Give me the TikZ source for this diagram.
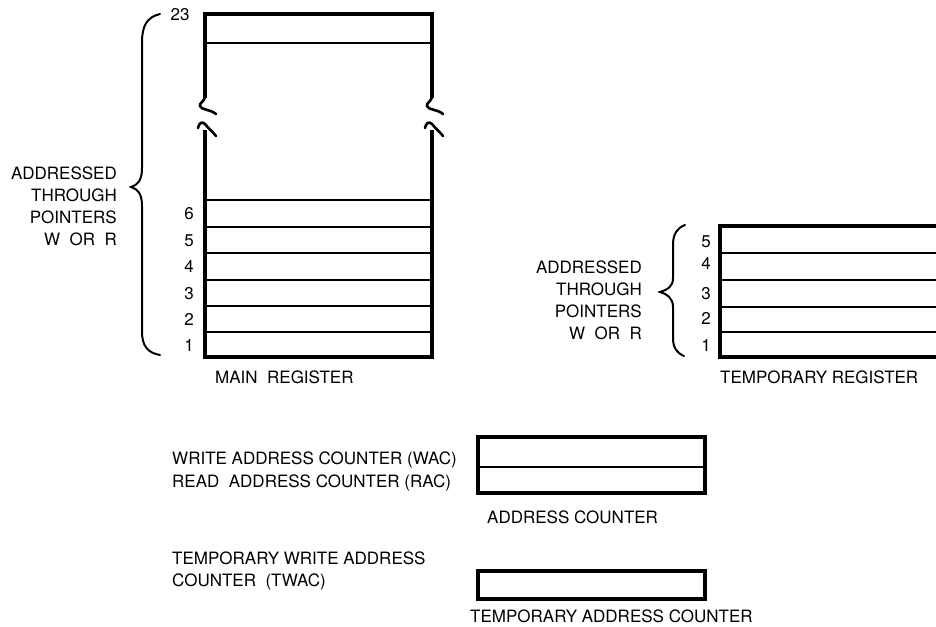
\documentclass[tikz,border=0pt]{standalone}
\usepackage{fontspec}
\setmainfont{TeX Gyre Heros}
\usetikzlibrary{positioning}
\tikzset{
  edge/.style={line width=3.4pt,line join=miter,draw=black},
  cell/.style={line width=2pt,draw=black},
  brk/.style={line width=2.6pt,line cap=round},
  brace/.style={line width=2pt,line cap=round},
  txt/.style={font=\fontsize{17}{21.7}\selectfont,inner sep=0pt},
  one/.style={txt,text height=12pt,text depth=0pt},
  regbox/.style={draw=black,line width=3.4pt,outer sep=0pt,inner sep=0pt}
}

\begin{document}
\begin{tikzpicture}[x=1pt,y=-1pt]
  \useasboundingbox (0,0) rectangle (936,626);

  % main register, broken in the middle
  \draw[edge] (205,98) -- (205,14) -- (432,14) -- (432,98);
  \draw[cell] (205,43) -- (432,43);
  \draw[edge] (205,130) -- (205,357) -- (432,357) -- (432,130);
  \foreach \y in {200,227,253,280,306,332}
    \draw[cell] (205,\y) -- (432,\y);
  \foreach \x in {205,432}{
    \begin{scope}[xshift=\x pt]
      \draw[brk] (0,97) .. controls (-1,102) and (-6,103) .. (-5,106) .. controls (-4,110) and (5,109) .. (11,114);
      \draw[brk] (-7,128) .. controls (-6,123) and (-3,121) .. (0,124) .. controls (3,128) and (7,131) .. (11,136);
    \end{scope}
  }
  \node[one] (m23) at (180,15) {23};
  \foreach \n/\y in {6/213,5/240,4/266,3/293,2/319,1/345}
    \node[one] (m\n) at (189,\y) {\n};
  \draw[brace] (160,14) .. controls (147,17) and (142,26) .. (142,42) -- (142,168)
    .. controls (142,180) and (138,185) .. (131,187)
    .. controls (138,189) and (142,194) .. (142,206) -- (142,332)
    .. controls (142,346) and (148,353) .. (160,355);
  \node[txt,align=right,anchor=north east] (mainptr) at (117,167) {ADDRESSED\\THROUGH\\POINTERS\\W\ \ OR\ \ R};
  \node[one,anchor=west] (maincap) at (215,377) {MAIN\ \ REGISTER};

  % temporary register
  \draw[edge] (940,226) -- (720,226) -- (720,357) -- (940,357);
  \foreach \y in {253,280,307,332}
    \draw[cell] (720,\y) -- (940,\y);
  \foreach \n/\y in {5/241,4/263,3/293,2/318,1/345}
    \node[one] (t\n) at (706,\y) {\n};
  \draw[brace] (685,225) .. controls (677,228) and (673,234) .. (673,245) -- (673,278)
    .. controls (673,287) and (667,290) .. (660,292)
    .. controls (667,294) and (673,298) .. (673,307) -- (673,338)
    .. controls (673,348) and (677,353) .. (684,356);
  \node[txt,align=right,anchor=north east] (tmpptr) at (642,261) {ADDRESSED\\THROUGH\\POINTERS\\W\ \ OR\ \ R};
  \node[one,anchor=west] (tmpcap) at (720,377) {TEMPORARY REGISTER};

  % address counters
  \node[regbox,anchor=north west,minimum width=227pt,minimum height=56pt] (ac) at (478,437) {};
  \draw[line width=2.6pt] (ac.west |- 0,467) -- (ac.east |- 0,467);
  \node[one,anchor=west] (wac) at (172,458) {WRITE ADDRESS COUNTER (WAC)};
  \node[one,anchor=west] (rac) at (172,481) {READ\ \ ADDRESS COUNTER (RAC)};
  \node[one,anchor=west] (accap) at (487,517) {ADDRESS COUNTER};

  \node[regbox,anchor=north west,minimum width=227pt,minimum height=28pt] (tac) at (478,571) {};
  \node[one,anchor=west] (twa) at (172,558) {TEMPORARY WRITE ADDRESS};
  \node[one,anchor=west] (twac) at (172,580) {COUNTER\ \ (TWAC)};
  \node[one,anchor=west] (tacap) at (470,616) {TEMPORARY ADDRESS COUNTER};
\end{tikzpicture}
\end{document}
